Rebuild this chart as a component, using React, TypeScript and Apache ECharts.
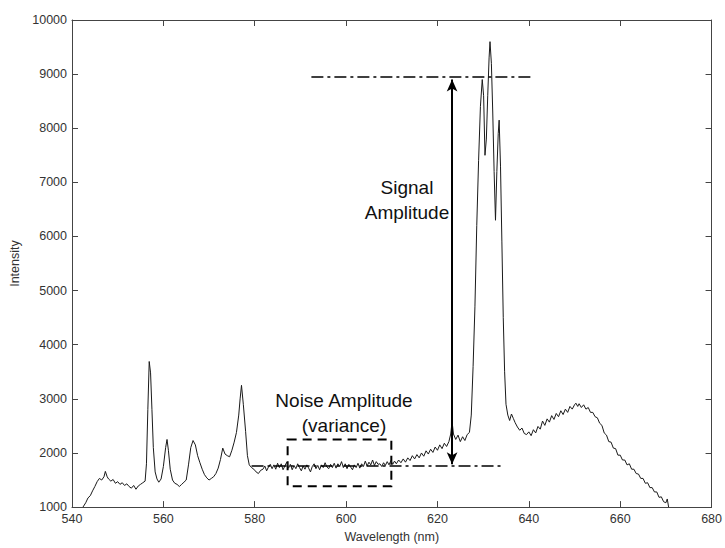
import React, { useEffect, useRef } from "react";
import * as echarts from "echarts";

const wavelength = [
  542.4, 543, 543.5, 544, 544.5, 545, 545.5, 546, 546.5, 547, 547.3, 547.7, 548, 548.5, 549, 549.5, 550, 550.5, 551, 551.5,
  552, 552.5, 553, 553.5, 554, 554.5, 555, 555.5, 556, 556.3, 556.6, 556.9, 557.2, 557.5, 557.8, 558.2, 558.6, 559, 559.5, 560,
  560.5, 560.8, 561.1, 561.5, 562, 562.5, 563, 563.5, 564, 564.5, 565, 565.5, 566, 566.5, 567, 567.5, 568, 568.5, 569, 569.5,
  570, 570.5, 571, 571.5, 572, 572.5, 573, 573.5, 574, 574.5, 575, 575.5, 576, 576.5, 576.8, 577.1, 577.5, 578, 578.4, 578.8,
  579.3, 579.8, 580.3, 580.8, 581.3, 581.8, 582.2, 582.6, 583, 583.4, 583.8, 584.2, 584.6, 585, 585.4, 585.8, 586.2, 586.6, 587, 587.4,
  587.8, 588.2, 588.6, 589, 589.4, 589.8, 590.2, 590.6, 591, 591.4, 591.8, 592.2, 592.6, 593, 593.4, 593.8, 594.2, 594.6, 595, 595.4,
  595.8, 596.2, 596.6, 597, 597.4, 597.8, 598.2, 598.6, 599, 599.4, 599.8, 600.2, 600.6, 601, 601.4, 601.8, 602.2, 602.6, 603, 603.4,
  603.8, 604.2, 604.6, 605, 605.4, 605.8, 606.2, 606.6, 607, 607.4, 607.8, 608.2, 608.6, 609, 609.4, 609.8, 610.2, 610.6, 611, 611.5,
  612, 612.5, 613, 613.5, 614, 614.5, 615, 615.5, 616, 616.5, 617, 617.5, 618, 618.5, 619, 619.5, 620, 620.5, 621, 621.5,
  622, 622.5, 622.9, 623.2, 623.5, 624, 624.5, 625, 625.5, 626, 626.5, 627, 627.4, 627.8, 628.2, 628.6, 629, 629.4, 629.8, 630.1,
  630.4, 630.7, 631, 631.3, 631.5, 631.8, 632.1, 632.4, 632.7, 633, 633.3, 633.5, 633.8, 634.1, 634.4, 634.7, 635, 635.4, 635.8, 636.2,
  636.6, 637, 637.5, 638, 638.5, 639, 639.5, 640, 640.5, 641, 641.5, 642, 642.5, 643, 643.5, 644, 644.5, 645, 645.5, 646,
  646.5, 647, 647.5, 648, 648.5, 649, 649.5, 650, 650.3, 650.7, 651, 651.5, 652, 652.5, 653, 653.5, 654, 654.5, 655, 655.5,
  656, 656.5, 657, 657.5, 658, 658.5, 659, 659.5, 660, 660.5, 661, 661.5, 662, 662.5, 663, 663.5, 664, 664.5, 665, 665.5,
  666, 666.5, 667, 667.5, 668, 668.5, 669, 669.5, 670, 670.3, 670.6,
];

const intensity = [
  1000, 1080, 1170, 1210, 1300, 1380, 1470, 1530, 1500, 1560, 1660, 1560, 1520, 1480, 1510, 1440, 1470, 1420, 1450, 1400,
  1430, 1380, 1350, 1400, 1330, 1390, 1420, 1450, 1480, 1800, 2800, 3690, 3480, 2800, 2100, 1650, 1520, 1460, 1520, 1750,
  2100, 2250, 2050, 1700, 1500, 1440, 1420, 1380, 1420, 1460, 1500, 1780, 2100, 2230, 2150, 1950, 1820, 1700, 1600, 1540,
  1500, 1530, 1560, 1620, 1720, 1880, 2090, 1980, 1950, 1930, 2050, 2200, 2380, 2700, 3000, 3250, 2900, 2400, 1950, 1780,
  1730, 1700, 1650, 1620, 1680, 1700, 1760, 1670, 1740, 1790, 1710, 1780, 1700, 1810, 1730, 1800, 1690, 1760, 1830, 1720,
  1790, 1690, 1770, 1710, 1800, 1730, 1670, 1760, 1700, 1780, 1720, 1650, 1750, 1800, 1710, 1770, 1690, 1780, 1730, 1820,
  1740, 1710, 1790, 1730, 1810, 1720, 1800, 1750, 1840, 1730, 1800, 1710, 1790, 1740, 1690, 1780, 1730, 1810, 1720, 1800,
  1750, 1850, 1760, 1830, 1780, 1870, 1770, 1840, 1790, 1800, 1750, 1820, 1770, 1840, 1780, 1860, 1790, 1850, 1800, 1870,
  1820, 1890, 1830, 1910, 1860, 1950, 1890, 1970, 1910, 2000, 1940, 2040, 1980, 2070, 2010, 2110, 2050, 2150, 2080, 2180,
  2120, 2210, 2350, 2580, 2350, 2250, 2330, 2210, 2300, 2230, 2340, 2380, 2700, 3600, 4700, 6200, 7400, 8400, 8900, 8600,
  7500, 7800, 8600, 9300, 9600, 9200, 8300, 7200, 6300, 7200, 7900, 8150, 7300, 5900, 4500, 3500, 2900, 2700, 2600, 2720,
  2640, 2560, 2480, 2420, 2460, 2360, 2340, 2390, 2320, 2430, 2370, 2490, 2440, 2590, 2510, 2630, 2570, 2690, 2620, 2730,
  2670, 2780, 2710, 2810, 2750, 2860, 2810, 2890, 2920, 2860, 2910, 2840, 2890, 2810, 2840, 2750, 2750, 2670, 2650, 2550,
  2510, 2370, 2330, 2210, 2200, 2090, 2080, 1960, 1960, 1870, 1870, 1780, 1800, 1700, 1700, 1620, 1610, 1530, 1530, 1440,
  1450, 1360, 1360, 1280, 1280, 1180, 1190, 1100, 1080, 1150, 1000,
];

// Annotation anchors in data coordinates
const signalLevel = 8950;
const signalSpan = [592.4, 640.7];
const noiseLevel = 1760;
const noiseSpan = [579.3, 634.1];
const arrowX = 623.2;
const arrowEnds = [8900, 1790];
const noiseBoxX = [587.2, 609.9];
const noiseBoxY = [2250, 1387];

const FONT = "Liberation Sans, Arial, sans-serif";

export default function App() {
  const ref = useRef<HTMLDivElement>(null);

  useEffect(() => {
    if (!ref.current) return;
    const chart = echarts.init(ref.current, undefined, { renderer: "svg" });
    const data = wavelength.map((w, i) => [w, intensity[i]]);
    const axisColor = "#444";
    const labelStyle = { fontSize: 12.5, color: "#333", fontFamily: FONT, formatter: (v: number) => String(v) };
    const dashDot = [12, 4, 3, 4];

    const baseX = {
      type: "value",
      min: 540,
      max: 680,
      interval: 20,
      splitLine: { show: false },
      axisLine: { onZero: false, lineStyle: { color: axisColor, width: 1 } },
      axisTick: { inside: true, length: 6, lineStyle: { color: axisColor } },
    };
    const baseY = {
      type: "value",
      min: 1000,
      max: 10000,
      interval: 1000,
      splitLine: { show: false },
      axisLine: { onZero: false, lineStyle: { color: axisColor, width: 1 } },
      axisTick: { inside: true, length: 6, lineStyle: { color: axisColor } },
    };

    chart.setOption({
      animation: false,
      backgroundColor: "#ffffff",
      grid: { left: 72, right: 12, top: 20, bottom: 39, containLabel: false },
      xAxis: [
        {
          ...baseX,
          position: "bottom",
          name: "Wavelength (nm)",
          nameLocation: "middle",
          nameGap: 22,
          nameTextStyle: { fontSize: 12.5, color: "#333", fontFamily: FONT },
          axisLabel: { ...labelStyle, margin: 5 },
        },
        { ...baseX, position: "top", axisLabel: { show: false } },
      ],
      yAxis: [
        {
          ...baseY,
          position: "left",
          name: "Intensity",
          nameLocation: "middle",
          nameRotate: 90,
          nameGap: 47,
          nameTextStyle: { fontSize: 12.5, color: "#333", fontFamily: FONT },
          axisLabel: { ...labelStyle, margin: 5 },
        },
        { ...baseY, position: "right", axisLabel: { show: false } },
      ],
      series: [
        {
          type: "line",
          data,
          xAxisIndex: 0,
          yAxisIndex: 0,
          symbol: "none",
          showSymbol: false,
          lineStyle: { color: "#1a1a1a", width: 1 },
          silent: true,
          markLine: {
            silent: true,
            symbol: ["none", "none"],
            label: { show: false },
            data: [
              [
                { coord: [signalSpan[0], signalLevel], lineStyle: { type: dashDot, color: "#000", width: 1.5 } },
                { coord: [signalSpan[1], signalLevel] },
              ],
              [
                { coord: [noiseSpan[0], noiseLevel], lineStyle: { type: dashDot, color: "#000", width: 1.5 } },
                { coord: [noiseSpan[1], noiseLevel] },
              ],
              [
                {
                  coord: [arrowX, arrowEnds[0]],
                  symbol: "arrow",
                  symbolSize: [8, 12],
                  lineStyle: { type: "solid", color: "#000", width: 2 },
                },
                { coord: [arrowX, arrowEnds[1]], symbol: "arrow", symbolSize: [8, 12] },
              ],
            ],
          },
          markArea: {
            silent: true,
            itemStyle: {
              color: "rgba(0,0,0,0)",
              borderColor: "#000",
              borderWidth: 2,
              borderType: [9, 6],
            },
            data: [[{ coord: [noiseBoxX[0], noiseBoxY[0]] }, { coord: [noiseBoxX[1], noiseBoxY[1]] }]],
          },
        },
      ],
      graphic: [
        { type: "text", x: 407, y: 187, style: { text: "Signal", font: `19px ${FONT}`, fill: "#111", align: "center", verticalAlign: "middle" } },
        { type: "text", x: 407, y: 212, style: { text: "Amplitude", font: `19px ${FONT}`, fill: "#111", align: "center", verticalAlign: "middle" } },
        { type: "text", x: 344, y: 400, style: { text: "Noise Amplitude", font: `19px ${FONT}`, fill: "#111", align: "center", verticalAlign: "middle" } },
        { type: "text", x: 344, y: 425, style: { text: "(variance)", font: `19px ${FONT}`, fill: "#111", align: "center", verticalAlign: "middle" } },
      ],
    });

    return () => chart.dispose();
  }, []);

  return (
    <div
      ref={ref}
      style={{ position: "fixed", left: 0, top: 0, width: 725, height: 548, background: "#fff" }}
    />
  );
}
